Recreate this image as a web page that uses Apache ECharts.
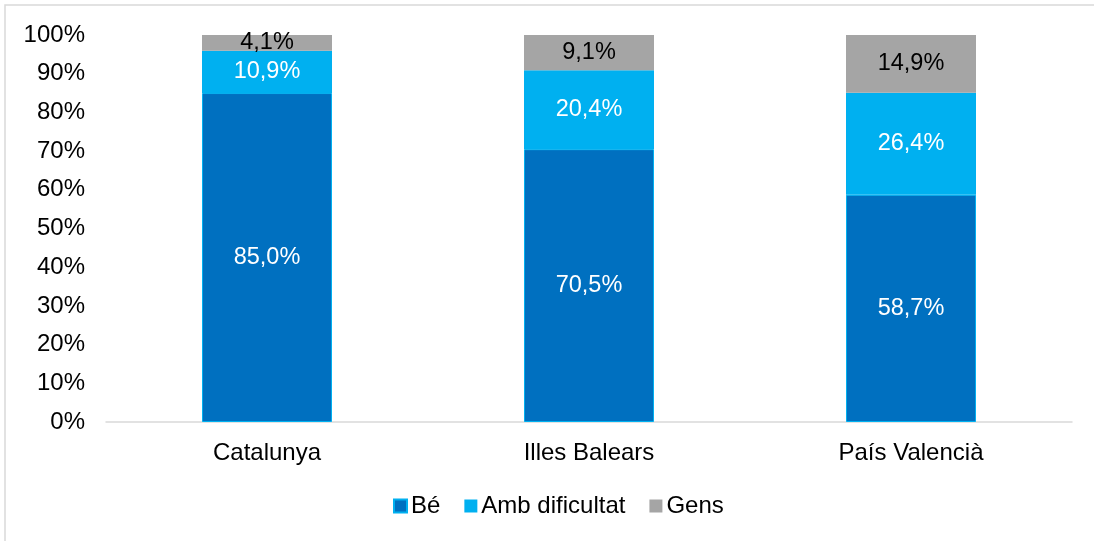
<!DOCTYPE html>
<html>
<head>
<meta charset="utf-8">
<script src="https://cdn.jsdelivr.net/npm/echarts@6/dist/echarts.min.js"></script>
<style>
  html, body { margin: 0; padding: 0; background: #fff; }
  #chart-container { width: 1094px; height: 541px; }
</style>
</head>
<body>
<div id="chart-container"></div>
<script>
const categories = ['Catalunya', 'Illes Balears', 'País Valencià'];
const be = [85.0, 70.5, 58.7];
const ambDificultat = [10.9, 20.4, 26.4];
const gens = [4.1, 9.1, 14.9];
const yTicks = [0, 10, 20, 30, 40, 50, 60, 70, 80, 90, 100];

let myChart = echarts.init(document.getElementById('chart-container'), null, {
	renderer: 'canvas',
});

const fmt = function (p) {
	return p.value.toFixed(1).replace('.', ',') + '%';
};
const font = 'Liberation Sans, Arial, sans-serif';

function makeLabel(color) {
	return {
		show: true,
		position: 'inside',
		formatter: fmt,
		color: color,
		fontSize: 23.5,
		fontFamily: font,
	};
}

let option = {
	animation: false,
	textStyle: { fontFamily: font },
	graphic: [
		{
			type: 'rect',
			shape: { x: 5, y: 5, width: 1200, height: 700 },
			style: { fill: 'none', stroke: '#d9d9d9', lineWidth: 1.5 },
			silent: true,
		},
	],
	legend: {
		data: ['Bé', 'Amb dificultat', 'Gens'],
		top: 489,
		left: 388,
		padding: 5,
		itemWidth: 13,
		itemHeight: 13,
		itemGap: 24,
		icon: 'rect',
		textStyle: { fontSize: 24, color: '#000', fontFamily: font, padding: [0, 0, 0, -1] },
	},
	grid: {
		left: 106,
		right: 22,
		top: 35,
		bottom: 119,
	},
	xAxis: {
		type: 'category',
		data: categories,
		axisTick: { show: false },
		axisLine: { lineStyle: { color: '#d9d9d9', width: 1.5 } },
		axisLabel: { color: '#000', fontSize: 24, margin: 19, fontFamily: font },
	},
	yAxis: {
		type: 'value',
		min: yTicks[0],
		max: yTicks[yTicks.length - 1],
		interval: 10,
		splitLine: { show: false },
		axisLine: { show: false },
		axisTick: { show: false },
		axisLabel: {
			color: '#000',
			fontSize: 24,
			margin: 21,
			fontFamily: font,
			formatter: '{value}%',
		},
	},
	series: [
		{
			name: 'Bé',
			type: 'bar',
			stack: 'total',
			barWidth: 130,
			data: be,
			itemStyle: { color: '#0070C0', borderColor: '#00B0F0', borderWidth: 1 },
			label: makeLabel('#fff'),
		},
		{
			name: 'Amb dificultat',
			type: 'bar',
			stack: 'total',
			data: ambDificultat,
			itemStyle: { color: '#00B0F0' },
			label: makeLabel('#fff'),
		},
		{
			name: 'Gens',
			type: 'bar',
			stack: 'total',
			data: gens,
			itemStyle: { color: '#A5A5A5' },
			label: makeLabel('#000'),
		},
	],
};

myChart.setOption(option);
window.addEventListener('resize', myChart.resize);
</script>
</body>
</html>
